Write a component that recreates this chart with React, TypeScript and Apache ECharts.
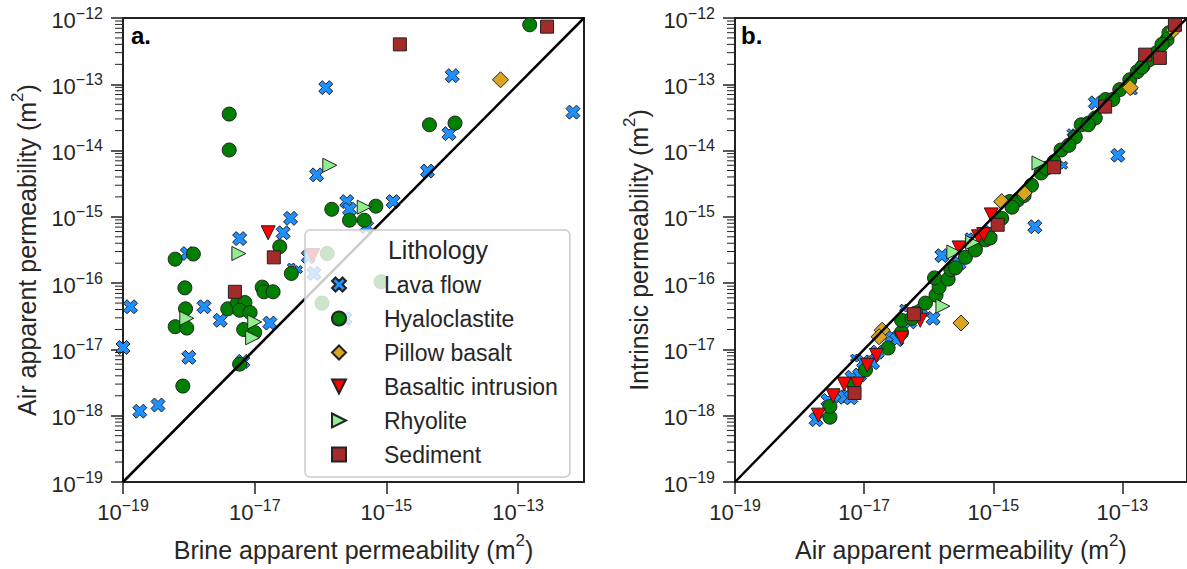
import React, { useEffect, useRef } from "react";
import * as echarts from "echarts";

// ---------- data ----------
const LITHOLOGIES = ["Lava flow", "Hyaloclastite", "Pillow basalt", "Basaltic intrusion", "Rhyolite", "Sediment"];
const X_TICKS = [1e-19, 1e-17, 1e-15, 1e-13];
const AXIS_MIN = 1e-19;
const AXIS_MAX = 1e-12;
const ONE_TO_ONE = [[1e-19, 1e-19], [1e-12, 1e-12]];

// panel a: [brine apparent, air apparent]
const lavaA = [
  [1.2e-16, 8.9e-14], [1.0e-14, 1.35e-13], [6.8e-13, 3.8e-14], [8.9e-15, 1.8e-14],
  [4.2e-15, 4.9e-15], [8.7e-17, 4.3e-15], [2.5e-16, 1.7e-15], [2.75e-16, 1.3e-15],
  [1.26e-15, 1.7e-15], [5.0e-16, 7.1e-16], [3.5e-17, 9.5e-16], [2.7e-17, 5.75e-16],
  [5.9e-18, 4.7e-16], [9.5e-19, 2.8e-16], [1.3e-19, 4.4e-17], [1.7e-18, 4.4e-17],
  [3.0e-18, 2.75e-17], [1.7e-17, 2.5e-17], [1.0e-19, 1.07e-17], [1.0e-18, 7.6e-18],
  [6.6e-18, 6.6e-18], [3.4e-19, 1.45e-18], [1.8e-19, 1.17e-18], [6.5e-17, 2.5e-16],
  [7.9e-17, 1.4e-16], [2.35e-16, 2.95e-17],
];
const lavaASmall = [[3.6e-17, 1.75e-16], [4.6e-17, 1.6e-16]];
const hyaloA = [
  [1.5e-13, 7.9e-13], [4.1e-18, 3.55e-14], [4.1e-18, 1.02e-14], [4.5e-15, 2.45e-14],
  [1.1e-14, 2.6e-14], [1.48e-16, 1.3e-15], [6.9e-16, 1.45e-15], [2.75e-16, 8.9e-16],
  [4.6e-16, 8.9e-16], [2.4e-17, 3.55e-16], [1.17e-18, 2.75e-16], [6.2e-19, 2.3e-16],
  [3.6e-17, 1.4e-16], [8.7e-19, 8.5e-17], [1.3e-17, 8.7e-17], [1.38e-17, 7.4e-17],
  [1.9e-17, 7.4e-17], [8.9e-19, 4.1e-17], [3.9e-18, 4.1e-17], [5.5e-18, 5.1e-17],
  [7.1e-18, 5.1e-17], [5.9e-18, 3.9e-17], [8.5e-18, 3.6e-17], [6.2e-19, 2.2e-17],
  [9.3e-19, 2.1e-17], [6.8e-18, 2.0e-17], [1.0e-17, 1.8e-17], [5.9e-18, 6.0e-18],
  [8.1e-19, 2.8e-18], [1.26e-16, 2.8e-16], [8.3e-16, 1.05e-16], [1.05e-16, 5.0e-17],
];
const pillowA = [[5.4e-14, 1.17e-13]];
const basaltA = [[1.6e-17, 5.75e-16], [7.6e-17, 2.6e-16]];
const rhyoA = [
  [1.38e-16, 6.0e-15], [4.6e-16, 1.4e-15], [5.75e-18, 2.8e-16],
  [9.3e-19, 2.95e-17], [1.0e-17, 2.6e-17], [9.3e-18, 1.5e-17],
];
const sedA = [[2.75e-13, 7.4e-13], [1.6e-15, 4.0e-13], [1.95e-17, 2.45e-16], [5.0e-18, 7.4e-17]];

// panel b: [air apparent, intrinsic]
const lavaB = [
  [4.3e-18, 2.0e-18], [5.0e-18, 1.9e-18], [6.2e-18, 1.86e-18], [1.8e-18, 8.7e-19],
  [6.5e-18, 3.8e-18], [9.8e-18, 6.5e-18], [1.35e-17, 6.3e-18], [2.7e-17, 1.55e-17],
  [1.17e-16, 2.95e-17], [1.6e-16, 2.6e-16], [8.9e-16, 5.9e-16], [2.95e-16, 2.0e-16],
  [4.4e-15, 7.1e-16], [8.5e-14, 8.5e-15], [3.8e-14, 5.25e-14],
  [2.75e-18, 1.7e-18], [8.5e-18, 4.1e-18], [1.6e-17, 9.1e-18], [3.2e-17, 1.4e-17],
  [5.1e-17, 2.6e-17], [7.9e-17, 3.9e-17],
];
const lavaBSmall = [
  [4.1e-17, 4.2e-17], [4.2e-16, 5.0e-16], [1.23e-14, 6.0e-15],
  [1.6e-14, 1.86e-14], [1.48e-13, 7.9e-14], [7.1e-18, 7.4e-18],
];
const hyaloB = [
  [2.95e-18, 9.5e-19], [2.95e-18, 1.38e-18], [6.9e-18, 2.9e-18], [1.05e-17, 4.9e-18],
  [2.35e-17, 1.05e-17], [3.8e-17, 1.8e-17], [3.8e-17, 2.75e-17], [6.3e-17, 3.55e-17],
  [8.9e-17, 5.0e-17], [1.3e-16, 6.6e-17], [1.45e-16, 8.7e-17], [1.23e-16, 1.2e-16],
  [2.0e-16, 1.15e-16], [2.2e-16, 1.6e-16], [3.7e-16, 2.45e-16], [5.25e-16, 3.4e-16],
  [7.6e-16, 4.5e-16], [8.9e-16, 4.8e-16], [1.35e-15, 9.5e-16], [1.8e-15, 1.7e-15],
  [2.4e-15, 1.8e-15], [1.95e-15, 1.4e-15], [3.9e-15, 3.0e-15], [5.5e-15, 4.6e-15],
  [6.6e-15, 5.4e-15], [8.7e-15, 6.8e-15], [1.12e-14, 1.02e-14], [1.86e-14, 1.6e-14],
  [2.3e-14, 2.45e-14], [3.0e-14, 2.6e-14], [3.8e-14, 3.1e-14], [5.5e-14, 5.9e-14],
  [9.1e-14, 8.3e-14], [1.3e-13, 1.17e-13], [1.7e-13, 1.55e-13], [2.1e-13, 1.9e-13],
  [2.6e-13, 2.35e-13], [3.4e-13, 3.0e-13], [4.9e-13, 4.7e-13], [5.25e-13, 6.0e-13],
  [5.5e-17, 2.95e-17], [2.6e-16, 1.7e-16], [5.25e-16, 3.16e-16], [3.0e-15, 2.1e-15],
  [1.48e-14, 1.2e-14], [2.95e-14, 2.45e-14], [7.1e-14, 5.9e-14], [2.0e-13, 1.8e-13],
  [4.1e-13, 4.0e-13],
];
const pillowB = [
  [1.9e-17, 1.95e-17], [1.7e-17, 1.55e-17], [3.16e-16, 2.5e-17], [1.35e-15, 1.7e-15],
  [3.0e-15, 2.3e-15], [1.32e-13, 8.9e-14], [6.2e-13, 6.6e-13],
];
const basaltB = [
  [1.95e-18, 1.02e-18], [4.9e-18, 3.0e-18], [7.9e-18, 3.0e-18], [1.55e-17, 8.1e-18],
  [7.4e-17, 2.75e-17], [9.3e-16, 1.07e-15], [5.9e-16, 5.0e-16], [7.1e-16, 5.4e-16],
  [2.95e-16, 3.4e-16], [3.3e-18, 2.0e-18], [1.12e-17, 5.75e-18], [3.8e-17, 1.48e-17],
];
const rhyoB = [[1.66e-16, 4.5e-17], [4.8e-16, 4.1e-16], [2.45e-16, 2.95e-16], [5.1e-15, 6.5e-15]];
const sedB = [
  [7.1e-18, 2.2e-18], [5.9e-17, 3.4e-17], [1.17e-15, 7.6e-16], [8.7e-15, 5.6e-15],
  [5.4e-14, 4.6e-14], [2.25e-13, 2.8e-13], [3.8e-13, 2.5e-13], [6.5e-13, 7.9e-13],
];

// ---------- styles ----------
const FONT = "'Liberation Sans', Arial, Helvetica, sans-serif";
const TXT = "#262626";
const AX = "#222222";
const X_PATH = "path://M2.5,0L5,2.5L7.5,0L10,2.5L7.5,5L10,7.5L7.5,10L5,7.5L2.5,10L0,7.5L2.5,5L0,2.5Z";
const DOWN_TRI = "path://M0,0L10,0L5,10Z";
const RIGHT_TRI = "path://M0,0L10,5L0,10Z";

const STYLE: Record<string, { symbol: string; size: number; color: string }> = {
  "Lava flow": { symbol: X_PATH, size: 14, color: "#1E90FF" },
  Hyaloclastite: { symbol: "circle", size: 14, color: "#008000" },
  "Pillow basalt": { symbol: "diamond", size: 16, color: "#DAA520" },
  "Basaltic intrusion": { symbol: DOWN_TRI, size: 14, color: "#FF0000" },
  Rhyolite: { symbol: RIGHT_TRI, size: 14, color: "#90EE90" },
  Sediment: { symbol: "rect", size: 13, color: "#A52A2A" },
};

// minor tick positions of the log y axes (2..9 within each decade)
const MINOR_TICKS: number[] = [];
for (let e = -19; e < -12; e++) {
  for (let m = 2; m <= 9; m++) MINOR_TICKS.push(Number(`${m}e${e}`));
}

const tickRich = {
  b: { fontSize: 22, lineHeight: 26, verticalAlign: "bottom", color: TXT, fontFamily: FONT },
  s: { fontSize: 16, lineHeight: 16, verticalAlign: "top", color: TXT, fontFamily: FONT },
};
const nameRich = {
  t: { fontSize: 25, lineHeight: 30, verticalAlign: "bottom", color: TXT, fontFamily: FONT },
  s: { fontSize: 17, lineHeight: 17, verticalAlign: "top", color: TXT, fontFamily: FONT },
};
const fmtExp = (v: number) => {
  const e = Math.round(Math.log10(v));
  return `{b|10}{s|${e < 0 ? "\u2212" : ""}${Math.abs(e)}}`;
};
const axisName = (s: string) => `{t|${s} (m}{s|2}{t|)}`;

const makeX = (gridIndex: number, name: string) => ({
  type: "log",
  gridIndex,
  min: AXIS_MIN,
  max: AXIS_MAX,
  name: axisName(name),
  nameLocation: "middle",
  nameGap: 50,
  nameTextStyle: { rich: nameRich },
  axisLine: { show: true, onZero: false, lineStyle: { color: AX, width: 2 } },
  axisTick: { show: true, length: 12, customValues: X_TICKS, lineStyle: { color: AX, width: 1.5 } },
  axisLabel: { customValues: X_TICKS, formatter: fmtExp, margin: 15, rich: tickRich },
  splitLine: { show: false },
});
const makeY = (gridIndex: number, name: string) => ({
  type: "log",
  gridIndex,
  min: AXIS_MIN,
  max: AXIS_MAX,
  name: axisName(name),
  nameLocation: "middle",
  nameGap: 84,
  nameTextStyle: { rich: nameRich },
  axisLine: { show: true, onZero: false, lineStyle: { color: AX, width: 2 } },
  axisTick: { show: true, length: 12, lineStyle: { color: AX, width: 1.5 } },
  axisLabel: { formatter: fmtExp, margin: 20, rich: tickRich },
  splitLine: { show: false },
});

const scatter = (name: string, data: number[][], panel: number, small?: number[][]) => {
  const st = STYLE[name];
  const items: any[] = data.map((d) => ({ value: d }));
  if (small) small.forEach((d) => items.push({ value: d, symbolSize: 8 }));
  return {
    type: "scatter",
    name,
    xAxisIndex: panel,
    yAxisIndex: panel,
    data: items,
    symbol: st.symbol,
    symbolSize: st.size,
    itemStyle: { color: st.color, borderColor: AX, borderWidth: 1, opacity: 1 },
    z: 2,
  };
};
const oneToOne = (panel: number) => ({
  type: "line",
  xAxisIndex: panel,
  yAxisIndex: panel,
  data: ONE_TO_ONE,
  symbol: "none",
  lineStyle: { color: "#000", width: 2.5 },
  z: 3,
});

const textElements = [
  {
    id: "legendTitle",
    type: "text",
    x: 438,
    y: 250,
    z: 100,
    style: { text: "Lithology", font: `25px ${FONT}`, fill: TXT, align: "center", verticalAlign: "middle" },
  },
  {
    id: "labelA",
    type: "text",
    x: 131,
    y: 35,
    z: 100,
    style: { text: "a.", font: `bold 24px ${FONT}`, fill: "#000", align: "left", verticalAlign: "middle" },
  },
  {
    id: "labelB",
    type: "text",
    x: 741,
    y: 35,
    z: 100,
    style: { text: "b.", font: `bold 24px ${FONT}`, fill: "#000", align: "left", verticalAlign: "middle" },
  },
];

export default function App() {
  const ref = useRef<HTMLDivElement>(null);
  useEffect(() => {
    if (!ref.current) return;
    const chart = echarts.init(ref.current, undefined, { renderer: "svg" });
    const gridCommon = { show: true, borderColor: AX, borderWidth: 2, height: 464, top: 18, width: 461 };
    chart.setOption({
      animation: false,
      textStyle: { fontFamily: FONT, color: TXT },
      grid: [
        { ...gridCommon, left: 123 },
        { ...gridCommon, left: 735 },
      ],
      xAxis: [makeX(0, "Brine apparent permeability"), makeX(1, "Air apparent permeability")],
      yAxis: [makeY(0, "Air apparent permeability"), makeY(1, "Intrinsic permeability")],
      legend: {
        data: LITHOLOGIES,
        orient: "vertical",
        left: 305,
        top: 230,
        padding: [43, 12, 11, 26],
        itemGap: 11,
        itemWidth: 14,
        itemHeight: 14,
        backgroundColor: "rgba(255,255,255,0.8)",
        borderColor: "#cccccc",
        borderWidth: 1.5,
        borderRadius: 5,
        selectedMode: false,
        textStyle: { fontSize: 23, color: TXT, fontFamily: FONT, padding: [0, 0, 0, 33] },
        z: 4,
      },
      graphic: textElements,
      series: [
        scatter("Lava flow", lavaA, 0, lavaASmall),
        scatter("Hyaloclastite", hyaloA, 0),
        scatter("Pillow basalt", pillowA, 0),
        scatter("Basaltic intrusion", basaltA, 0),
        scatter("Rhyolite", rhyoA, 0),
        scatter("Sediment", sedA, 0),
        oneToOne(0),
        scatter("Lava flow", lavaB, 1, lavaBSmall),
        scatter("Hyaloclastite", hyaloB, 1),
        scatter("Pillow basalt", pillowB, 1),
        scatter("Basaltic intrusion", basaltB, 1),
        scatter("Rhyolite", rhyoB, 1),
        scatter("Sediment", sedB, 1),
        oneToOne(1),
      ],
    });

    // minor ticks: positions obtained from the chart's own log scales
    const tickLines: any[] = [];
    [0, 1].forEach((panel) => {
      const x0 = chart.convertToPixel({ xAxisIndex: panel } as any, AXIS_MIN) as unknown as number;
      MINOR_TICKS.forEach((v, i) => {
        const y = chart.convertToPixel({ yAxisIndex: panel } as any, v) as unknown as number;
        if (typeof x0 === "number" && typeof y === "number" && isFinite(x0) && isFinite(y)) {
          tickLines.push({
            id: `minor-${panel}-${i}`,
            type: "line",
            z: 50,
            silent: true,
            shape: { x1: x0 - 8, y1: y, x2: x0, y2: y },
            style: { stroke: AX, lineWidth: 1 },
          });
        }
      });
    });
    chart.setOption({ graphic: [...textElements, ...tickLines] });

    return () => chart.dispose();
  }, []);
  return (
    <div
      ref={ref}
      style={{ position: "fixed", left: 0, top: 0, width: 1187, height: 569, background: "#fff" }}
    />
  );
}
